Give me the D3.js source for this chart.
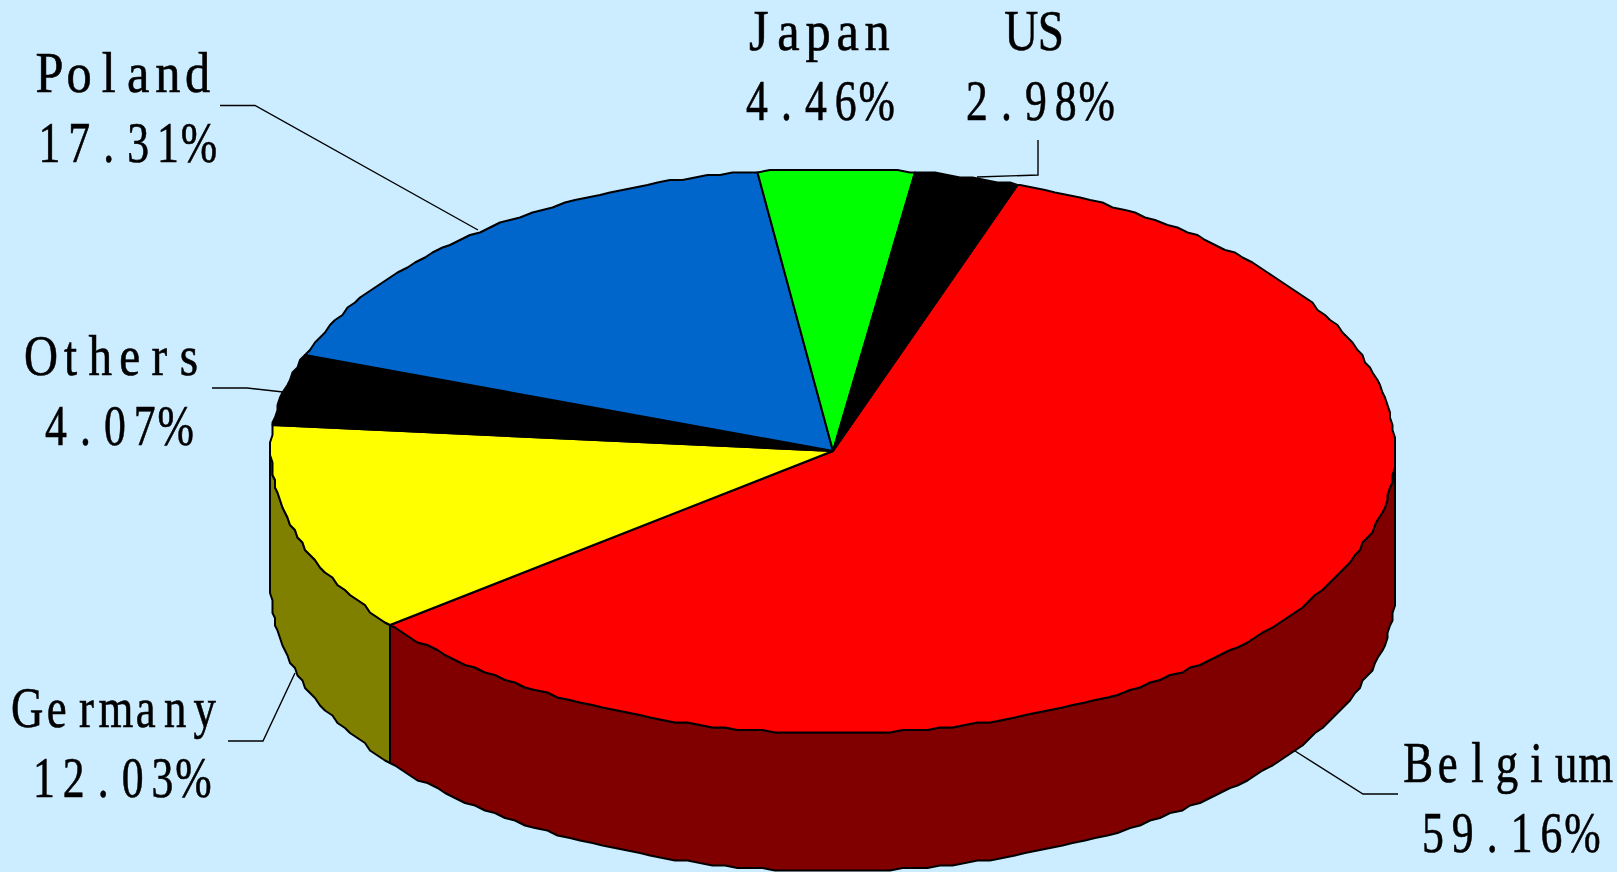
<!DOCTYPE html>
<html>
<head>
<meta charset="utf-8">
<script src="https://cdn.jsdelivr.net/npm/d3@7"></script>
<style>
html,body{margin:0;padding:0;background:#CCECFF;overflow:hidden}
svg{display:block}
</style>
</head>
<body>
<script>
// data (clockwise, starting at Belgium)
const categories = ["Belgium","Germany","Others","Poland","Japan","US"];
const shares = [59.16,12.03,4.07,17.31,4.46,2.98];
const topColors = ["#FF0000","#FFFF00","#000000","#0066CC","#00FF00","#000000"];
const wallColors = ["#800000","#808000","#000000","#003366","#008000","#000000"];

// annotation layout: label centres (name, value), baselines, leader polylines
const labelLayout = {
  Belgium:{c:[1507,1509],b:[782,852],leader:[[1295,751],[1363,794],[1398,794]]},
  Germany:{c:[116,120],b:[727,797],leader:[[295,673],[263,741],[228,741]]},
  Others:{c:[115,117],b:[375,445],leader:[[283,392],[247,388],[212,388]]},
  Poland:{c:[123.5,125.5],b:[92,162],leader:[[478,230],[255,105.5],[220,105.5]]},
  Japan:{c:[818,818],b:[50,120],leader:null},
  US:{c:[1036,1038],b:[50,120],leader:[[977,177],[1038,175],[1038,140]]}
};

const W=1617,H=872,cx=833,cy=451,rx=562,ry=282,depth=138;
const startDeg=19.1, grid=2.5, stepDeg=1.3;
const fontSize=56, cell=29.6;

const rad=d=>d*Math.PI/180;
const sx=d3.scaleLinear().domain([-1,1]).range([cx-rx,cx+rx]);
const sy=d3.scaleLinear().domain([-1,1]).range([cy-ry,cy+ry]);
const snap=v=>Math.round(v/grid)*grid;

const svg=d3.select("body").append("svg").attr("width",W).attr("height",H).attr("viewBox",`0 0 ${W} ${H}`);
svg.append("rect").attr("width",W).attr("height",H).attr("fill","#CCECFF");

const pie=d3.pie().sort(null).startAngle(rad(startDeg)).endAngle(rad(startDeg+360));
const slices=pie(shares).map((s,i)=>({...s,name:categories[i]}));

// rim samples between two angles, on a shared angular lattice so neighbours meet
function rim(a0,a1,dy){
  const step=rad(stepDeg),pts=[a0];
  for(let k=Math.ceil(a0/step+1e-6);k*step<a1-1e-6;k++)pts.push(k*step);
  pts.push(a1);
  return pts.map(a=>[snap(sx(Math.sin(a))),snap(sy(-Math.cos(a)))+dy]);
}
const line=d3.line();
const gWalls=svg.append("g"),gTops=svg.append("g");
const front0=rad(90),front1=rad(270);
const STROKE=2;

slices.forEach((s,i)=>{
  const a0=Math.max(s.startAngle,front0),a1=Math.min(s.endAngle,front1);
  if(a1>a0){
    const up=rim(a0,a1,0),down=rim(a0,a1,depth).reverse();
    gWalls.append("path").attr("d",line(up.concat(down))+"Z")
      .attr("fill",wallColors[i]).attr("stroke","#000").attr("stroke-width",STROKE).attr("stroke-linejoin","round");
  }
});
slices.forEach((s,i)=>{
  gTops.append("path").attr("d",line([[cx,cy]].concat(rim(s.startAngle,s.endAngle,0)))+"Z")
    .attr("fill",topColors[i]).attr("stroke","#000").attr("stroke-width",STROKE).attr("stroke-linejoin","round");
});

// leaders
const gLead=svg.append("g");
slices.forEach(s=>{
  const L=labelLayout[s.name];
  if(L.leader)gLead.append("path").attr("d",line(L.leader)).attr("fill","none").attr("stroke","#000").attr("stroke-width",1.4);
});

// labels: one text per line, glyphs set in fixed-width cells with a per-line horizontal squeeze
const ctx=document.createElement("canvas").getContext("2d");
ctx.font=`${fontSize}px "Liberation Serif"`;
const natural=ch=>ctx.measureText(ch).width;
function squeezeFor(str){
  if(/%/.test(str))return 0.78;
  const widest=d3.max(Array.from(str),natural);
  return Math.max(0.8,Math.min(0.9,34/widest));
}
function place(str,centre,base){
  const n=str.length,k=squeezeFor(str),xs=[];
  Array.from(str).forEach((ch,i)=>{
    const w=natural(ch)*k;
    let left=(i-n/2)*cell+(cell-w)/2;
    if(ch==="%")left=(i-n/2)*cell-2;   // the sign runs past its cell on the right only
    xs.push((left/k).toFixed(2));
  });
  svg.append("text")
    .attr("transform",`translate(${centre},${base}) scale(${k},1)`)
    .attr("x",xs.join(" ")).attr("y",0)
    .attr("font-family",'"Liberation Serif",serif').attr("font-size",fontSize).attr("fill","#000")
    .attr("stroke","#000").attr("stroke-width",0.6)
    .text(str);
}
slices.forEach(s=>{
  const L=labelLayout[s.name];
  place(s.name,L.c[0],L.b[0]);
  place(s.value.toFixed(2)+"%",L.c[1]-2,L.b[1]);
});
</script>
</body>
</html>
